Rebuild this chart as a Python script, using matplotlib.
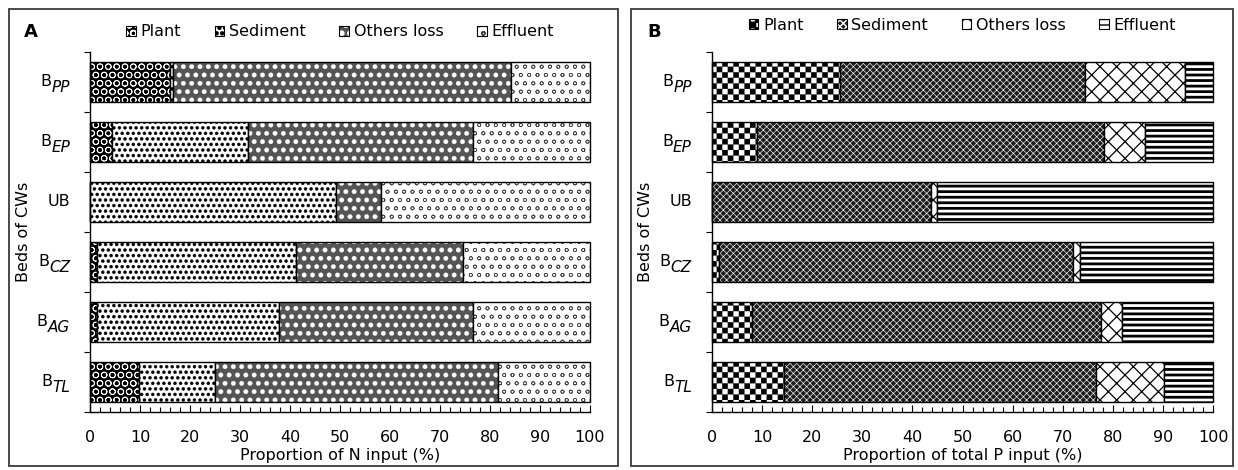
import numpy as np
import matplotlib
matplotlib.use("Agg")
import matplotlib.pyplot as plt
import matplotlib.hatch as mhatch
from matplotlib.path import Path
from matplotlib.patches import Rectangle, Patch
from matplotlib.ticker import MultipleLocator, FixedLocator, NullFormatter
from matplotlib.transforms import blended_transform_factory, offset_copy

# ---------------- data ----------------
bed_base = ['B', 'B', 'UB', 'B', 'B', 'B']
bed_sub = ['PP', 'EP', '', 'CZ', 'AG', 'TL']
series_names = ['Plant', 'Sediment', 'Others loss', 'Effluent']

# Panel A: proportion of N input (%)
n_plant = [16.0, 4.4, 0.0, 1.4, 1.3, 9.7]
n_sediment = [0.6, 27.2, 49.2, 39.8, 36.5, 15.2]
n_others = [67.6, 44.9, 8.9, 33.4, 38.7, 56.7]
n_effluent = [15.8, 23.5, 41.9, 25.4, 23.5, 18.4]

# Panel B: proportion of total P input (%)
p_plant = [25.5, 9.0, 0.0, 1.3, 7.9, 14.4]
p_sediment = [48.9, 69.2, 43.7, 70.7, 69.7, 62.2]
p_others = [20.1, 8.2, 1.2, 1.5, 4.3, 13.7]
p_effluent = [5.5, 13.6, 55.1, 26.5, 18.1, 9.7]

# ---------------- hatch tweaks ----------------
class CheckerHatch(mhatch.HatchPatternBase):
    """Checkerboard of filled squares, triggered by '*'."""
    def __init__(self, hatch, density):
        n = int(hatch.count('*') * density)
        n += n % 2
        self.n = n
        self.num_vertices = (n * n // 2) * 5

    def set_vertices_and_codes(self, vertices, codes):
        n = self.n
        c = 1.0 / n
        sq = np.array([[0, 0], [c, 0], [c, c], [0, c], [0, 0]], float)
        cd = [Path.MOVETO, Path.LINETO, Path.LINETO, Path.LINETO, Path.CLOSEPOLY]
        k = 0
        for i in range(n):
            for j in range(n):
                if (i + j) % 2 == 0:
                    vertices[k:k + 5] = sq + [i * c, j * c]
                    codes[k:k + 5] = cd
                    k += 5

if hasattr(mhatch, '_hatch_types'):
    mhatch._hatch_types = [t for t in mhatch._hatch_types if t is not mhatch.Stars] + [CheckerHatch]
mhatch.SmallFilledCircles.size = 0.27

plt.rcParams['font.family'] = ['DejaVu Sans']
plt.rcParams['hatch.linewidth'] = 1.0

FS = 11.5

styles_A = [
    dict(fc='black', hc='white', hatch='OO', hlw=0.6),
    dict(fc='white', hc='black', hatch='...', hlw=0.3),
    dict(fc='#555555', hc='white', hatch='..', hlw=0.2),
    dict(fc='white', hc='#444444', hatch='oo', hlw=0.5),
]
styles_B = [
    dict(fc='white', hc='black', hatch='***', hlw=0.1),
    dict(fc='#1c1c1c', hc='white', hatch='xxxxx', hlw=0.45),
    dict(fc='white', hc='black', hatch='xx', hlw=0.9),
    dict(fc='white', hc='black', hatch='---', hlw=2.0),
]


def set_hlw(p, lw):
    if hasattr(p, 'set_hatch_linewidth'):
        p.set_hatch_linewidth(lw)


def draw_panel(fig, ax, series, styles, xlabel, leg_y):
    y = np.arange(len(bed_base))
    left = np.zeros(len(bed_base))
    handles = []
    for name, vals, st in zip(series_names, series, styles):
        vals = np.asarray(vals, float)
        bars = ax.barh(y, vals, left=left, height=0.667, color=st['fc'],
                       edgecolor=st['hc'], hatch=st['hatch'], linewidth=0)
        for p in bars:
            set_hlw(p, st['hlw'])
        ax.barh(y, vals, left=left, height=0.667, fill=False,
                edgecolor='black', linewidth=1.0, clip_on=False)
        left += vals
        h1 = Patch(facecolor=st['fc'], edgecolor=st['hc'], hatch=st['hatch'], linewidth=0)
        set_hlw(h1, st['hlw'])
        h2 = Patch(fill=False, edgecolor='black', linewidth=0.8)
        handles.append((h1, h2))

    ax.set_xlim(0, 100)
    ax.set_ylim(5.5, -0.5)
    ax.xaxis.set_major_locator(MultipleLocator(10))
    ax.xaxis.set_minor_locator(MultipleLocator(2))
    ax.tick_params(axis='x', which='major', direction='in', length=5, width=0.8,
                   pad=13, labelsize=FS)
    ax.tick_params(axis='x', which='minor', direction='in', length=3.5, width=0.8)
    ax.yaxis.set_major_locator(FixedLocator(np.arange(-0.5, 6, 1)))
    ax.yaxis.set_major_formatter(NullFormatter())
    ax.tick_params(axis='y', which='major', direction='out', length=4, width=0.8)
    for s in ['top', 'right']:
        ax.spines[s].set_visible(False)
    for s in ['left', 'bottom']:
        ax.spines[s].set_linewidth(1.0)

    # category labels: "B" with a lowered italic suffix of similar size
    trans = blended_transform_factory(ax.transAxes, ax.transData)
    for yi, base, sub in zip(y, bed_base, bed_sub):
        if sub:
            t_sub = ax.text(-0.04, yi, sub, ha='right', va='center', style='italic',
                            fontsize=FS - 0.5,
                            transform=offset_copy(trans, fig, x=0, y=-5, units='dots'))
            ax.annotate(base, xy=(0, 0.5), xycoords=t_sub, xytext=(0, 5),
                        textcoords='offset pixels', ha='right', va='center', fontsize=FS)
        else:
            ax.text(-0.04, yi, base, ha='right', va='center', fontsize=FS, transform=trans)

    ax.set_xlabel(xlabel, fontsize=FS, labelpad=2)
    ax.set_ylabel('Beds of CWs', fontsize=FS)
    ax.yaxis.set_label_coords(-0.118, 0.5)
    ax.legend(handles, series_names, loc='center', bbox_to_anchor=(0.5, leg_y),
              ncol=4, frameon=False, fontsize=FS, handlelength=0.6, handleheight=0.6,
              handletextpad=0.3, columnspacing=2.1, borderpad=0, borderaxespad=0)


W, H = 1238, 470
fig = plt.figure(figsize=(W / 100, H / 100), dpi=100)

# panel borders
fig.patches.append(Rectangle((9 / W, 4 / H), 609 / W, 457 / H, transform=fig.transFigure,
                             fill=False, edgecolor='#3a3a3a', linewidth=1.3))
fig.patches.append(Rectangle((631 / W, 4 / H), 602 / W, 457 / H, transform=fig.transFigure,
                             fill=False, edgecolor='#3a3a3a', linewidth=1.3))

axA = fig.add_axes([90 / W, 58 / H, 500 / W, 360 / H])
axB = fig.add_axes([712 / W, 58 / H, 501 / W, 360 / H])

draw_panel(fig, axA, [n_plant, n_sediment, n_others, n_effluent], styles_A,
           'Proportion of N input (%)', 1.0556)
draw_panel(fig, axB, [p_plant, p_sediment, p_others, p_effluent], styles_B,
           'Proportion of total P input (%)', 1.075)

fig.text(31 / W, 1 - 32 / H, 'A', fontsize=13, fontweight='bold', ha='center', va='center')
fig.text(654 / W, 1 - 32 / H, 'B', fontsize=13, fontweight='bold', ha='center', va='center')

fig.savefig('out.png', dpi=100)
